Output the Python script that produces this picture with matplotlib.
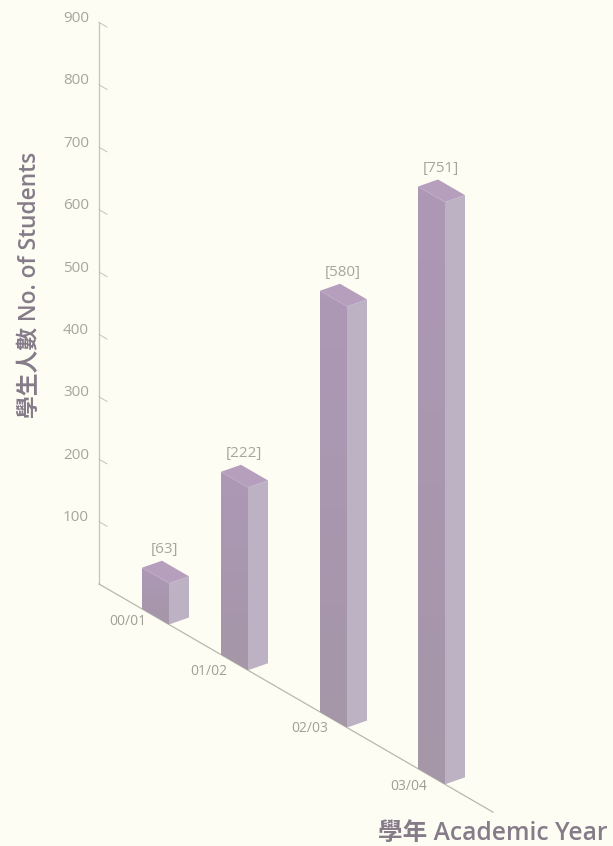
import matplotlib
matplotlib.use('Agg')
import matplotlib.pyplot as plt
import numpy as np
from matplotlib.colors import LinearSegmentedColormap
from matplotlib.patches import Polygon
from matplotlib.transforms import Affine2D

plt.rcParams['font.family'] = ['Open Sans', 'Noto Sans CJK TC', 'DejaVu Sans']

years = ['00/01', '01/02', '02/03', '03/04']
labels = ['[63]', '[222]', '[580]', '[751]']
# the printed bars don't follow their labels, these are heights read against the axis
heights = [66, 293, 675, 933]
positions = [43, 122, 221, 319]
yticks = [100, 200, 300, 400, 500, 600, 700, 800, 900]
year_offsets = [(-14, -13), (-12, -17), (-10, -17), (-9, -18)]

bar_w = 27
depth_x, depth_v = 20, 29.8

bg = '#fdfdf3'
axis_col = '#c4c4b8'
text_col = '#a6a69b'
title_col = '#857b89'

fig = plt.figure(figsize=(6.13, 8.46), dpi=100, facecolor=bg)
ax = fig.add_axes([0, 0, 1, 1])
ax.set_axis_off()

# floor position and value -> picture, the floor runs down to the right
skew = Affine2D(np.array([[1, 0, 99], [0.579, -0.624, 584], [0, 0, 1]])) + ax.transData
front_cmap = LinearSegmentedColormap.from_list('front', ['#ad98b6', '#a596a8'])

ax.plot([0, 0], [0, 900], color=axis_col, lw=0.9, transform=skew)
ax.plot([0, 394], [0, 0], color='#b8b8ac', lw=0.9, transform=skew)

for t in yticks:
    ax.plot([0, 8], [t, t], color=axis_col, lw=0.7, transform=skew)
    ax.annotate(str(t), (0, t), xycoords=skew, xytext=(-10, 4), textcoords='offset pixels',
                ha='right', va='center', fontsize=11, color=text_col)

for i in range(len(years)):
    x0 = positions[i]
    h = heights[i]
    x1 = x0 + bar_w
    x2 = x1 + depth_x

    front = [(x0, 0), (x1, 0), (x1, h), (x0, h)]
    side = [(x1, 0), (x2, depth_v), (x2, h + depth_v), (x1, h)]
    top = [(x0, h), (x1, h), (x2, h + depth_v), (x0 + depth_x, h + depth_v)]

    # front face goes greyer towards the floor
    poly = Polygon(front, transform=skew, facecolor='none', edgecolor='none')
    ax.add_patch(poly)
    grad = np.linspace(0, 1, 64).reshape(-1, 1)
    im = ax.imshow(grad, extent=[99 + x0, 99 + x1, 584 + 0.579 * x1, 584 + 0.579 * x0 - 0.624 * h],
                   cmap=front_cmap, aspect='auto', zorder=2)
    im.set_clip_path(poly)

    ax.add_patch(Polygon(side, transform=skew, facecolor='#bcb2c4', edgecolor='none', zorder=2))
    ax.add_patch(Polygon(top, transform=skew, facecolor='#b69fbd', edgecolor='none', zorder=2))

    ax.annotate(labels[i], (x0 + depth_x, h + depth_v), xycoords=skew, xytext=(3, 11),
                textcoords='offset pixels', ha='center', va='center', fontsize=11, color=text_col)
    ax.annotate(years[i], (x0, 0), xycoords=skew, xytext=year_offsets[i], textcoords='offset pixels',
                ha='center', va='center', fontsize=10, color='#9f9f95')

ax.set_xlim(0, 613)
ax.set_ylim(846, 0)

ax.text(30, 285, '學生人數 No. of Students', rotation=90, ha='center', va='center',
        fontsize=16.4, fontweight='semibold', color=title_col)
ax.text(608, 834, '學年 Academic Year', ha='right', va='center',
        fontsize=17.7, fontweight='semibold', color=title_col)

fig.savefig('out.png', dpi=100, facecolor=bg)
